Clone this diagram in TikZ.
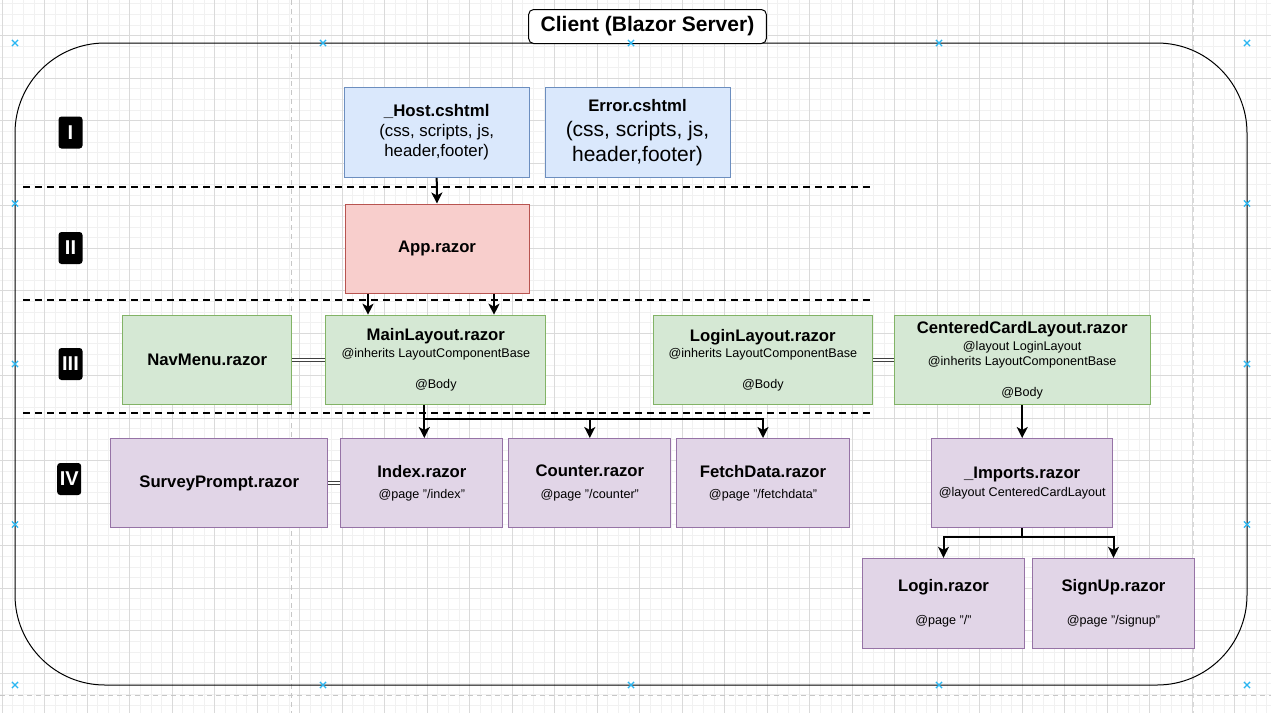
\documentclass[tikz,border=0pt]{standalone}
\usepackage{fontspec}
\setmainfont{Liberation Sans}
\usetikzlibrary{arrows.meta, calc, shapes.misc}

\definecolor{hostfill}{HTML}{DAE8FC}
\definecolor{hostline}{HTML}{6C8EBF}
\definecolor{appfill}{HTML}{F8CECC}
\definecolor{appline}{HTML}{B85450}
\definecolor{layfill}{HTML}{D5E8D4}
\definecolor{layline}{HTML}{82B366}
\definecolor{pagefill}{HTML}{E1D5E7}
\definecolor{pageline}{HTML}{9673A6}
\definecolor{gridmajor}{HTML}{DADADA}
\definecolor{gridminor}{HTML}{F1F1F1}
\definecolor{handlecol}{HTML}{29B6F2}

\newcommand{\ttl}[1]{{\fontsize{16.7}{18}\selectfont\bfseries #1}}

\begin{document}
\begin{tikzpicture}[x=1pt, y=-1pt, >={Stealth[length=11pt,width=11pt,inset=3pt]},
  box/.style={draw, line width=1pt, minimum height=89pt, align=center, inner sep=2pt,
    font=\fontsize{12.6}{15.5}\selectfont},
  hostbox/.style={box, fill=hostfill, draw=hostline},
  appbox/.style={box, fill=appfill, draw=appline},
  laybox/.style={box, fill=layfill, draw=layline},
  pagebox/.style={box, fill=pagefill, draw=pageline},
  badge/.style={fill=black, rounded corners=3pt, text=white, inner sep=1pt,
    minimum width=24pt, minimum height=32pt, font=\fontsize{20}{20}\selectfont\bfseries},
  flow/.style={->, line width=2pt},
  link/.style={draw=black!75, line width=0.9pt, double=white, double distance=2pt},
  divider/.style={line width=2pt, dash pattern=on 7pt off 5pt},
  pagebreak/.style={draw=black!22, line width=1pt, dash pattern=on 5pt off 4pt},
  handle/.style={cross out, draw=handlecol, line width=1.2pt, minimum size=5pt, inner sep=0pt},
]
\useasboundingbox (0,0) rectangle (1271,713);

% background grid
\foreach \k in {0,...,119} \draw[gridminor, line width=1pt] ({2.3+\k*10.625},0) -- ++(0,713);
\foreach \k in {-3,...,63} \draw[gridminor, line width=1pt] (0,{35.8+\k*10.625}) -- ++(1271,0);
\foreach \k in {0,...,29} \draw[gridmajor, line width=1pt] ({2.3+\k*42.5},0) -- ++(0,713);
\foreach \k in {0,...,15} \draw[gridmajor, line width=1pt] (0,{35.8+\k*42.5}) -- ++(1271,0);
\draw[pagebreak] (291.7,0) -- (291.7,713);
\draw[pagebreak, line width=1.6pt, draw=black!15] (1193.3,0) -- (1193.3,713);
\draw[pagebreak] (0,695) -- (1271,695);

% container
\draw[line width=1pt, rounded corners=90pt] (15,43) rectangle (1247,685);

% level dividers
\foreach \y in {187.3,300.3,413.3} \draw[divider] (23,\y) -- (872,\y);

% level badges
\node[badge] (lvlI)   at (70.5,132.5) {I};
\node[badge] (lvlII)  at (70.5,248)   {II};
\node[badge] (lvlIII) at (70.5,364)   {III};
\node[badge] (lvlIV)  at (69.2,479)   {IV};

% level I
\node[hostbox, minimum width=185pt, minimum height=90pt, font=\fontsize{16.8}{20}\selectfont]
  (host) at (436.7,132.3) {\textbf{\_Host.cshtml}\\(css, scripts, js,\\header,footer)};
\node[hostbox, minimum width=185pt, minimum height=90pt, font=\fontsize{21}{25}\selectfont]
  (error) at (637.5,132.3) {\ttl{Error.cshtml}\\(css, scripts, js,\\header,footer)};

% level II
\node[appbox, minimum width=184pt] (app) at (437,248.5) {\ttl{App.razor}};

% level III
\node[laybox, minimum width=169pt] (nav) at (207.2,359.7) {\ttl{NavMenu.razor}};
\node[laybox, minimum width=219.7pt] (main) at (435.8,359.7)
  {\ttl{MainLayout.razor}\\[1pt]@inherits LayoutComponentBase\\[15.5pt]@Body};
\node[laybox, minimum width=219pt] (loginlay) at (762.8,360)
  {\ttl{LoginLayout.razor}\\[1pt]@inherits LayoutComponentBase\\[15.5pt]@Body};
\node[laybox, minimum width=255.7pt] (card) at (1022.2,360)
  {\ttl{CenteredCardLayout.razor}\\[1pt]@layout LoginLayout\\[-0.5pt]@inherits LayoutComponentBase\\[15.5pt]@Body};

% level IV
\node[pagebox, minimum width=217pt] (survey) at (219.2,483) {\ttl{SurveyPrompt.razor}};
\node[pagebox, minimum width=161.7pt] (idx) at (421.8,483) {\ttl{Index.razor}\\[6pt]@page "/index"};
\node[pagebox, minimum width=161.7pt] (cnt) at (589.8,483) {\ttl{Counter.razor}\\[6pt]@page "/counter"};
\node[pagebox, minimum width=172.7pt] (fetch) at (763,483) {\ttl{FetchData.razor}\\[6pt]@page "/fetchdata"};
\node[pagebox, minimum width=181pt] (imp) at (1022.2,483) {\ttl{\_Imports.razor}\\[2pt]@layout CenteredCardLayout};
\node[pagebox, minimum width=161.7pt, minimum height=90pt] (login) at (943.5,603.3) {\ttl{Login.razor}\\[18pt]@page "/"};
\node[pagebox, minimum width=161.7pt, minimum height=90pt] (signup) at (1113.5,603.3) {\ttl{SignUp.razor}\\[18pt]@page "/signup"};

% connectors
\draw[flow] (host.south) -- (app.north);
\draw[flow] ([xshift=-69pt]app.south) -- ([xshift=-69pt]app.south |- main.north);
\draw[flow] ([xshift=57pt]app.south) -- ([xshift=57pt]app.south |- main.north);
\draw[link] (nav.east) -- (main.west);
\draw[link] (loginlay.east) -- (card.west);
\draw[link] (survey.east) -- (idx.west);
\draw[flow] ([xshift=-11.5pt]main.south) -- ([xshift=-11.5pt]main.south |- idx.north);
\coordinate (split) at ($([xshift=-11.5pt]main.south)+(0,14)$);
\draw[flow] (split) -| (fetch.north);
\draw[flow] (split -| cnt.north) -- (cnt.north);
\draw[flow] (card.south) -- (imp.north);
\draw[line width=2pt] (imp.south) -- ++(0,9) coordinate (fork);
\draw[flow] (fork) -| (login.north);
\draw[flow] (fork) -| (signup.north);

% container title
\node[draw, fill=white, line width=1pt, rounded corners=5pt, minimum width=237.7pt, minimum height=34pt,
  font=\fontsize{21}{21}\selectfont\bfseries] (title) at (647.5,26.5) {Client (Blazor Server)};

% editor handles
\foreach \x in {15,323,631,939,1247} {
  \node[handle] at (\x,43) {};
  \node[handle] at (\x,685) {};
}
\foreach \y in {203.5,364,524.5} {
  \node[handle] at (15,\y) {};
  \node[handle] at (1247,\y) {};
}
\end{tikzpicture}
\end{document}
